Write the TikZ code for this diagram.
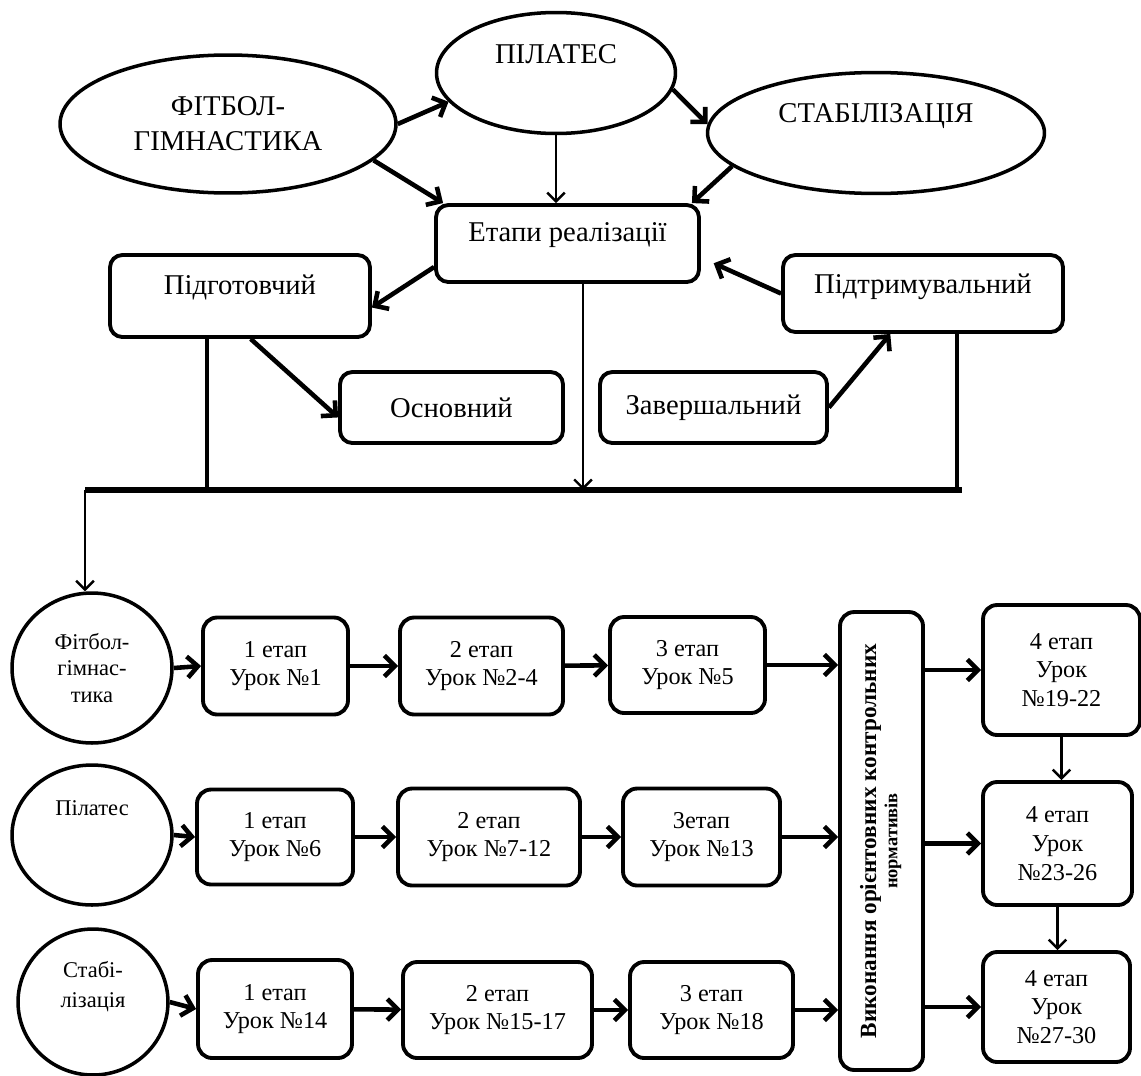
\documentclass[tikz,border=0pt]{standalone}
\usepackage{fontspec}
\setmainfont{Liberation Serif}
\usepackage{graphicx}
\usetikzlibrary{shapes.geometric, arrows.meta, calc}

\newcommand{\TopFont}{\fontsize{16.3}{20}\selectfont}
\newcommand{\LowFont}{\fontsize{13.8}{16.4}\selectfont}
\newcommand{\RingFont}{\fontsize{12.8}{15.3}\selectfont}

\tikzset{
  % ovals of the top row
  oval/.style={
    ellipse, draw, line width=2pt,
    inner sep=0pt, align=center, font=\TopFont
  },
  % stage boxes
  rbox/.style={
    rectangle, rounded corners=7pt,
    draw, line width=2.2pt,
    inner sep=0pt, align=center, font=\TopFont
  },
  % lesson boxes
  sbox/.style={rbox, rounded corners=8pt, font=\LowFont},
  % circles on the left
  ring/.style={ellipse, draw, line width=2pt, inner sep=0pt, align=center, font=\RingFont},
  % text put into a shape
  txt/.style={font=\TopFont, align=center, inner sep=0pt},
  ringtxt/.style={font=\RingFont, align=center, inner sep=0pt},
  % connectors
  arr/.style={-{Straight Barb[length=6pt,width=12pt]}, line width=2.6pt},
  tarr/.style={-{Straight Barb[length=5pt,width=10pt]}, line width=1.4pt},
  tap/.style={line width=2.2pt},
  bus/.style={line width=3.6pt},
}

\begin{document}
\begin{tikzpicture}[x=0.02cm, y=-0.02cm]

  \useasboundingbox (0,0) rectangle (1141,1075);

  %% top part
  \node[oval, minimum width=6.72cm, minimum height=2.76cm] (fit) at (228,124)
    {ФІТБОЛ-\\ГІМНАСТИКА};
  \node[oval, minimum width=4.78cm, minimum height=2.42cm,
        label={[txt, yshift=0.38cm]center:ПІЛАТЕС}] (pil) at (556,73) {};
  \node[oval, minimum width=6.74cm, minimum height=2.42cm,
        label={[txt, yshift=0.34cm]center:СТАБІЛІЗАЦІЯ}] (stab) at (876,133) {};

  \node[rbox, minimum width=5.26cm, minimum height=1.54cm,
        label={[txt, yshift=0.16cm]center:Етапи реалізації}] (etapy) at (567.5,243.5) {};
  \node[rbox, minimum width=5.2cm, minimum height=1.64cm,
        label={[txt, yshift=0.18cm]center:Підготовчий}] (pidg) at (240,296) {};
  \node[rbox, minimum width=5.6cm, minimum height=1.54cm,
        label={[txt, yshift=0.14cm]center:Підтримувальний}] (pidt) at (923,293.5) {};
  \node[rbox, minimum width=4.46cm, minimum height=1.42cm] (osn) at (451.5,407.5) {Основний};
  \node[rbox, minimum width=4.54cm, minimum height=1.42cm] (zav) at (713.5,407.5) {Завершальний};

  \coordinate (busL) at (85,490);
  \coordinate (busR) at (962,490);
  \coordinate (tapL) at (207,490);
  \coordinate (tapM) at (583,490);
  \coordinate (tapR) at (957,490);

  %% lower part
  \node[ring, minimum width=3.2cm, minimum height=3.0cm] (c1) at (92,668)
    {Фітбол-\\гімнас-\\тика};
  \node[ring, minimum width=3.2cm, minimum height=2.8cm,
        label={[ringtxt, yshift=0.54cm]center:Пілатес}] (c2) at (92,835) {};
  \node[ring, minimum width=3.0cm, minimum height=2.92cm,
        label={[ringtxt, yshift=0.3cm, font=\fontsize{12.8}{17}\selectfont]center:Стабі-\\лізація}] (c3) at (93,1002) {};

  \node[sbox, minimum width=2.9cm,  minimum height=1.94cm] (b11) at (275.5,666) {1 етап\\Урок №1};
  \node[sbox, minimum width=3.26cm, minimum height=1.94cm] (b12) at (481.5,666) {2 етап\\Урок №2-4};
  \node[sbox, minimum width=3.1cm,  minimum height=1.92cm] (b13) at (687.5,665) {3 етап\\Урок №5};

  \node[sbox, minimum width=3.12cm, minimum height=1.9cm]  (b21) at (275,837) {1 етап\\Урок №6};
  \node[sbox, minimum width=3.64cm, minimum height=1.94cm] (b22) at (489,837) {2 етап\\Урок №7-12};
  \node[sbox, minimum width=3.14cm, minimum height=1.94cm] (b23) at (701.5,837) {3етап\\Урок №13};

  \node[sbox, minimum width=3.08cm, minimum height=1.96cm] (b31) at (275,1009) {1 етап\\Урок №14};
  \node[sbox, minimum width=3.78cm, minimum height=1.92cm] (b32) at (497.5,1010) {2 етап\\Урок №15-17};
  \node[sbox, minimum width=3.26cm, minimum height=1.92cm] (b33) at (711.5,1010) {3 етап\\Урок №18};

  \node[sbox, minimum width=1.66cm, minimum height=9.16cm, font=\fontsize{13.2}{15}\selectfont\bfseries]
    (norm) at (881.5,841)
    {\rotatebox{90}{\begin{tabular}{@{}c@{}}Виконання орієнтовних контрольних\\[-3pt]
      {\fontsize{10.5}{11}\selectfont нормативів}\end{tabular}}};

  \node[sbox, minimum width=3.14cm, minimum height=2.6cm]  (r1) at (1061.5,670) {4 етап\\Урок\\№19-22};
  \node[sbox, minimum width=2.98cm, minimum height=2.46cm] (r2) at (1057.5,843.5) {4 етап\\Урок\\№23-26};
  \node[sbox, minimum width=2.94cm, minimum height=2.2cm]  (r3) at (1056.5,1007) {4 етап\\Урок\\№27-30};

  %% Arrows
  \draw[arr]  (fit.0)   -- (pil.195);
  \draw[arr]  (fit.-14) -- (etapy.162);
  \draw[tarr] (pil.south) -- (pil.south |- etapy.north);
  \draw[arr]  (pil.-8)  -- (stab.177);
  \draw[arr]  (stab.193) -- (etapy.18);
  \draw[arr]  (etapy.190) -- (pidg.-5);
  \draw[arr]  (pidg.-76) -- (osn.185);
  \draw[arr]  (zav.east) -- (pidt.231);
  \draw[arr, shorten >=0.28cm] (pidt.west) -- (etapy.-6);

  \draw[bus]  (busL) -- (busR);
  \draw[tap]  (pidg.south -| tapL) -- (tapL);
  \draw[tap]  (pidt.south -| tapR) -- (tapR);
  \draw[tarr] (etapy.south -| tapM) -- (tapM);
  \draw[tarr] (busL) -- (busL |- c1.north);

  \draw[arr] (c1.east) -- (b11.west);
  \draw[arr] (b11) -- (b12);
  \draw[arr] (b12) -- (b13);
  \draw[arr] (b13.east) -- (b13.east -| norm.west);
  \draw[arr] (c2.east) -- (b21.west);
  \draw[arr] (b21) -- (b22);
  \draw[arr] (b22) -- (b23);
  \draw[arr] (b23.east) -- (b23.east -| norm.west);
  \draw[arr] (c3.east) -- (b31.west);
  \draw[arr] (b31) -- (b32);
  \draw[arr] (b32) -- (b33);
  \draw[arr] (b33.east) -- (b33.east -| norm.west);

  \draw[arr] (r1.west -| norm.east) -- (r1.west);
  \draw[arr] (r2.west -| norm.east) -- (r2.west);
  \draw[arr] (r3.west -| norm.east) -- (r3.west);
  \draw[tarr] (r1.south) -- (r1.south |- r2.north);
  \draw[tarr] (r2.south) -- (r2.south |- r3.north);

\end{tikzpicture}
\end{document}
